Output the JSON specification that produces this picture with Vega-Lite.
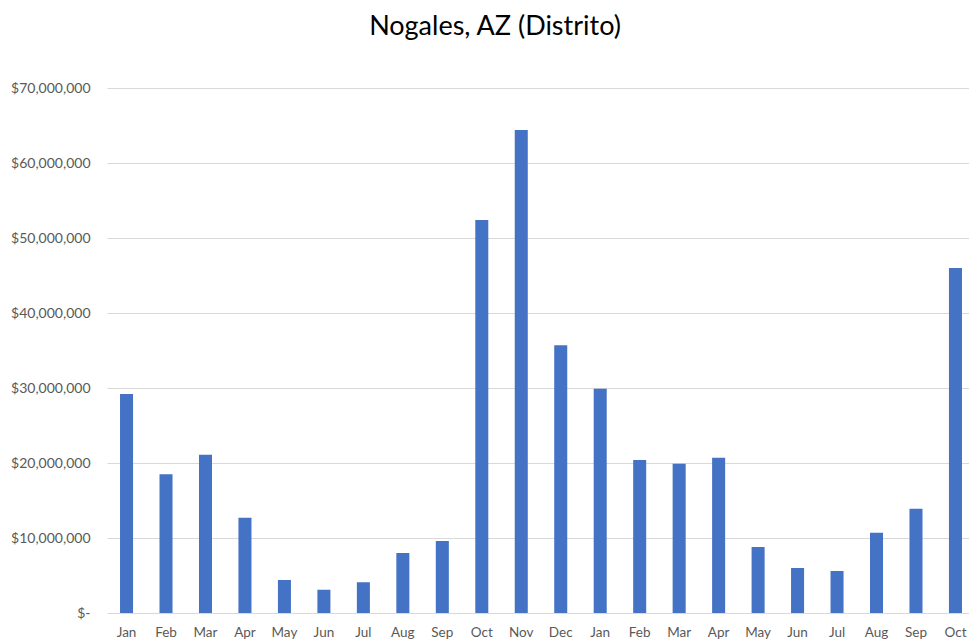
{
  "$schema": "https://vega.github.io/schema/vega-lite/v6.json",
  "autosize": "none",
  "padding": {"left": 107, "top": 88, "right": 0, "bottom": 28},
  "width": 868,
  "height": 525,
  "background": "white",
  "title": {
    "text": "Nogales, AZ (Distrito)",
    "font": "Lato",
    "fontSize": 27,
    "fontWeight": "normal",
    "color": "#000000",
    "anchor": "middle",
    "dx": -46,
    "offset": 40
  },
  "data": {
    "values": [
      {"key": "Jan 1", "value": 29200000},
      {"key": "Feb 1", "value": 18500000},
      {"key": "Mar 1", "value": 21100000},
      {"key": "Apr 1", "value": 12700000},
      {"key": "May 1", "value": 4400000},
      {"key": "Jun 1", "value": 3100000},
      {"key": "Jul 1", "value": 4100000},
      {"key": "Aug 1", "value": 8000000},
      {"key": "Sep 1", "value": 9600000},
      {"key": "Oct 1", "value": 52400000},
      {"key": "Nov 1", "value": 64400000},
      {"key": "Dec 1", "value": 35700000},
      {"key": "Jan 2", "value": 29900000},
      {"key": "Feb 2", "value": 20400000},
      {"key": "Mar 2", "value": 19900000},
      {"key": "Apr 2", "value": 20700000},
      {"key": "May 2", "value": 8800000},
      {"key": "Jun 2", "value": 6000000},
      {"key": "Jul 2", "value": 5600000},
      {"key": "Aug 2", "value": 10700000},
      {"key": "Sep 2", "value": 13900000},
      {"key": "Oct 2", "value": 46000000}
    ]
  },
  "mark": {"type": "bar", "color": "#4472C4"},
  "encoding": {
    "x": {
      "field": "key",
      "type": "nominal",
      "sort": null,
      "scale": {"paddingInner": 0.67, "paddingOuter": 0.33},
      "axis": {
        "title": null,
        "labelAngle": 0,
        "labelExpr": "split(datum.label, ' ')[0]",
        "labelFont": "Lato",
        "labelFontSize": 13.5,
        "labelColor": "#595959",
        "labelPadding": 12,
        "ticks": false,
        "domain": false
      }
    },
    "y": {
      "field": "value",
      "type": "quantitative",
      "scale": {"domain": [0, 70000000], "nice": false},
      "axis": {
        "title": null,
        "values": [0, 10000000, 20000000, 30000000, 40000000, 50000000, 60000000, 70000000],
        "labelExpr": "datum.value == 0 ? '$-' : '$' + format(datum.value, ',')",
        "labelFont": "Lato",
        "labelFontSize": 14,
        "labelColor": "#595959",
        "labelPadding": 17,
        "ticks": false,
        "domain": false,
        "grid": true,
        "gridColor": "#d9d9d9",
        "gridWidth": 1
      }
    }
  },
  "config": {"view": {"stroke": null}}
}
